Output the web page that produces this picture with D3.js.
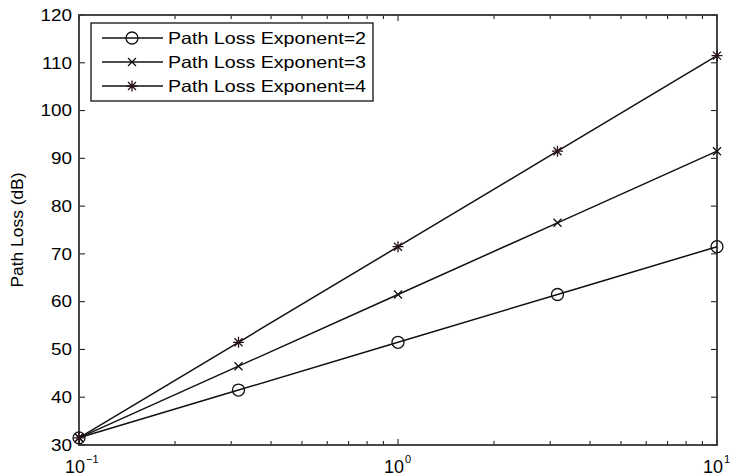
<!DOCTYPE html>
<html><head><meta charset="utf-8">
<script src="https://cdn.jsdelivr.net/npm/d3@7"></script>
<style>body{margin:0;background:#fff}svg{display:block}text{font-family:"Liberation Sans",Arial,Helvetica,sans-serif;fill:#000}</style>
</head><body>
<svg id="c" width="731" height="476"></svg>
<script>
const distances = [0.1, 0.3162, 1, 3.162, 10];
const seriesNames = ["Path Loss Exponent=2", "Path Loss Exponent=3", "Path Loss Exponent=4"];
const loss2 = [31.5, 41.5, 51.5, 61.5, 71.5];
const loss3 = [31.5, 46.5, 61.5, 76.5, 91.5];
const loss4 = [31.5, 51.5, 71.5, 91.5, 111.5];
const yTicks = [30, 40, 50, 60, 70, 80, 90, 100, 110, 120];
const xTickExps = [-1, 0, 1];
const yLabel = "Path Loss (dB)";

const svg = d3.select("#c");
const L = 79, R = 717, T = 15, B = 445;
const x = d3.scaleLog().domain([0.1, 10]).range([L, R]);
const y = d3.scaleLinear().domain([30, 120]).range([B, T]);
const series = [
  {name: seriesNames[0], vals: loss2, marker: "circle", color: "#111"},
  {name: seriesNames[1], vals: loss3, marker: "x", color: "#111"},
  {name: seriesNames[2], vals: loss4, marker: "star", color: "#2a1218"}
];

// ticks (inward) all four sides
const minor = [];
for (let d = 0.1; d < 10; d *= 10) for (let k = 2; k <= 9; k++) minor.push(d * k);
const tg = svg.append("g").attr("stroke", "#222").attr("stroke-width", 1.1);
minor.forEach(v => {
  tg.append("line").attr("x1", x(v)).attr("x2", x(v)).attr("y1", B).attr("y2", B - 4);
  tg.append("line").attr("x1", x(v)).attr("x2", x(v)).attr("y1", T).attr("y2", T + 4);
});
xTickExps.forEach(e => {
  const v = Math.pow(10, e);
  tg.append("line").attr("x1", x(v)).attr("x2", x(v)).attr("y1", B).attr("y2", B - 6);
  tg.append("line").attr("x1", x(v)).attr("x2", x(v)).attr("y1", T).attr("y2", T + 6);
});
yTicks.forEach(v => {
  tg.append("line").attr("x1", L).attr("x2", L + 6).attr("y1", y(v)).attr("y2", y(v));
  tg.append("line").attr("x1", R).attr("x2", R - 6).attr("y1", y(v)).attr("y2", y(v));
});

// frame
svg.append("rect").attr("x", L).attr("y", T).attr("width", R - L).attr("height", B - T)
  .attr("fill", "none").attr("stroke", "#333").attr("stroke-width", 1.8);

// y tick labels
yTicks.forEach(v => {
  svg.append("text").attr("transform", `translate(72,${y(v)}) scale(1.18,1)`)
    .attr("text-anchor", "end").attr("dy", "0.36em").attr("font-size", 16).text(v);
});
// x tick labels 10^e
xTickExps.forEach(e => {
  const cx = x(Math.pow(10, e));
  const t = svg.append("text").attr("x", cx - 14).attr("y", 473).attr("font-size", 18);
  t.append("tspan").text("10");
  t.append("tspan").attr("font-size", 11).attr("dy", -10).attr("dx", 1).text(e === -1 ? "\u2212" + "1" : String(e));
});
// y label
svg.append("text").attr("transform", "translate(23,230) rotate(-90)")
  .attr("text-anchor", "middle").attr("font-size", 16).attr("textLength", 115)
  .attr("lengthAdjust", "spacingAndGlyphs").text(yLabel);

function drawMarker(g, m, cx, cy, color) {
  if (m === "circle") {
    g.append("circle").attr("cx", cx).attr("cy", cy).attr("r", 6)
      .attr("fill", "none").attr("stroke", color).attr("stroke-width", 1.3);
  } else if (m === "x") {
    const s = 4;
    g.append("path").attr("d", `M${cx-s},${cy-s}L${cx+s},${cy+s}M${cx-s},${cy+s}L${cx+s},${cy-s}`)
      .attr("stroke", color).attr("stroke-width", 1.3);
  } else {
    const s = 5.5, d = 4;
    g.append("path").attr("d", `M${cx},${cy-s}L${cx},${cy+s}M${cx-s},${cy}L${cx+s},${cy}M${cx-d},${cy-d}L${cx+d},${cy+d}M${cx-d},${cy+d}L${cx+d},${cy-d}`)
      .attr("stroke", color).attr("stroke-width", 1.3);
  }
}

const line = d3.line().x((d, i) => x(distances[i])).y(d => y(d));
const pg = svg.append("g");
series.forEach(s => {
  pg.append("path").datum(s.vals).attr("d", line).attr("fill", "none")
    .attr("stroke", "#111").attr("stroke-width", 1.5);
});
series.forEach(s => {
  s.vals.forEach((v, i) => drawMarker(pg, s.marker, x(distances[i]), y(v), s.color));
});

// legend
const lg = svg.append("g");
lg.append("rect").attr("x", 91).attr("y", 23).attr("width", 282).attr("height", 78)
  .attr("fill", "#fff").attr("stroke", "#222").attr("stroke-width", 1.4);
series.forEach((s, i) => {
  const ly = 38 + i * 24;
  lg.append("line").attr("x1", 102).attr("x2", 163).attr("y1", ly).attr("y2", ly)
    .attr("stroke", "#111").attr("stroke-width", 1.4);
  drawMarker(lg, s.marker, 132, ly, s.color);
  lg.append("text").attr("x", 168).attr("y", ly).attr("dy", "0.36em").attr("font-size", 16.5)
    .attr("textLength", 198).attr("lengthAdjust", "spacingAndGlyphs").text(s.name);
});
</script>
</body></html>
